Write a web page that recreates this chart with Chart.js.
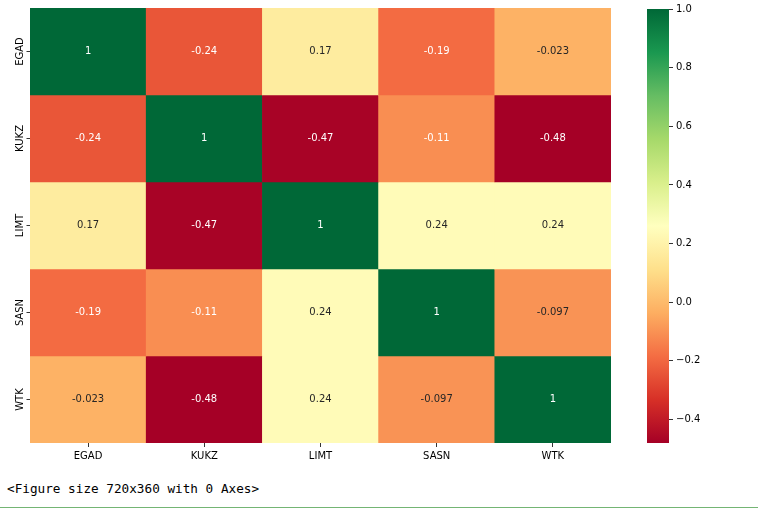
<!DOCTYPE html>
<html>
<head>
<meta charset="utf-8">
<script src="https://cdn.jsdelivr.net/npm/chart.js@4.4.1/dist/chart.umd.min.js"></script>
<style>
    body { margin: 0; background: #fff; width: 758px; height: 513px; position: relative; overflow: hidden; }
    #heat { position: absolute; left: 0; top: 0; }
    #bar { position: absolute; left: 640px; top: 0; }
    #note { position: absolute; left: 7px; top: 481px; font: 12.7px "DejaVu Sans Mono", monospace; color: #000; white-space: pre; }
    #rule { position: absolute; left: 0; top: 507px; width: 758px; height: 1px; background: #74b574; }
</style>
</head>
<body>
<canvas id="heat" width="640" height="470"></canvas>
<canvas id="bar" width="118" height="470"></canvas>
<div id="note">&lt;Figure size 720x360 with 0 Axes&gt;</div>
<div id="rule"></div>

<script>
// correlation matrix, one array per row
const names = ['EGAD', 'KUKZ', 'LIMT', 'SASN', 'WTK'];
const egad = [1, -0.24, 0.17, -0.19, -0.023];
const kukz = [-0.24, 1, -0.47, -0.11, -0.48];
const limt = [0.17, -0.47, 1, 0.24, 0.24];
const sasn = [-0.19, -0.11, 0.24, 1, -0.097];
const wtk = [-0.023, -0.48, 0.24, -0.097, 1];
const rows = [egad, kukz, limt, sasn, wtk];

const vmin = -0.48;
const vmax = 1;
const colorTicks = [-0.4, -0.2, 0.0, 0.2, 0.4, 0.6, 0.8, 1.0];

const rdylgn = ['#a50026','#d73027','#f46d43','#fdae61','#fee08b','#ffffbf','#d9ef8b','#a6d96a','#66bd63','#1a9850','#006837'];

Chart.defaults.font.family = "'DejaVu Sans', sans-serif";
Chart.defaults.font.size = 10;
Chart.defaults.color = '#000';

function hexRgb(h){
    return [parseInt(h.slice(1,3),16), parseInt(h.slice(3,5),16), parseInt(h.slice(5,7),16)];
}

function cmap(v){
    let t = (v - vmin) / (vmax - vmin);
    t = Math.max(0, Math.min(1, t));
    const pos = t * (rdylgn.length - 1);
    const i = Math.min(Math.floor(pos), rdylgn.length - 2);
    const f = pos - i;
    const a = hexRgb(rdylgn[i]), b = hexRgb(rdylgn[i+1]);
    return a.map((c, k) => Math.round(c + (b[k] - c) * f));
}

function luminance(rgb){
    const lin = rgb.map(c => {
        c = c / 255;
        return c <= 0.03928 ? c / 12.92 : Math.pow((c + 0.055) / 1.055, 2.4);
    });
    return 0.2126 * lin[0] + 0.7152 * lin[1] + 0.0722 * lin[2];
}

function fmt(v){
    return String(v);
}

const datasets = rows.map((row, i) => ({
    label: names[i],
    data: row.map(() => 1),
    values: row,
    backgroundColor: row.map(v => 'rgb(' + cmap(v).join(',') + ')'),
    borderWidth: 0,
    barPercentage: 1,
    categoryPercentage: 1
}));

const cellText = {
    id: 'cellText',
    afterDatasetsDraw(chart){
        const ctx = chart.ctx;
        ctx.save();
        ctx.font = "10px 'DejaVu Sans'";
        ctx.textAlign = 'center';
        ctx.textBaseline = 'middle';
        chart.data.datasets.forEach((ds, i) => {
            const meta = chart.getDatasetMeta(i);
            meta.data.forEach((el, j) => {
                const v = ds.values[j];
                ctx.fillStyle = luminance(cmap(v)) > 0.408 ? '#262626' : '#ffffff';
                ctx.fillText(fmt(v), el.x, (el.y + el.base) / 2);
            });
        });
        ctx.restore();
    }
};

const rowLabels = {
    id: 'rowLabels',
    afterDraw(chart){
        const ctx = chart.ctx;
        const y = chart.scales.y;
        const left = chart.chartArea.left;
        ctx.save();
        ctx.strokeStyle = '#000';
        ctx.lineWidth = 0.8;
        ctx.fillStyle = '#000';
        ctx.font = "10px 'DejaVu Sans'";
        names.forEach((n, i) => {
            const py = y.getPixelForValue(i + 0.5);
            ctx.beginPath();
            ctx.moveTo(left - 3.5, py);
            ctx.lineTo(left, py);
            ctx.stroke();
            ctx.save();
            ctx.translate(left - 7, py);
            ctx.rotate(-Math.PI / 2);
            ctx.textAlign = 'center';
            ctx.textBaseline = 'bottom';
            ctx.fillText(n, 0, 2);
            ctx.restore();
        });
        ctx.restore();
    }
};

new Chart(document.getElementById('heat'), {
    type: 'bar',
    data: { labels: names, datasets: datasets },
    options: {
        responsive: false,
        animation: false,
        devicePixelRatio: 1,
        layout: { padding: { left: 30, right: 29, top: 8, bottom: 0 } },
        plugins: { legend: { display: false }, tooltip: { enabled: false } },
        scales: {
            x: {
                stacked: true,
                afterFit(s){ s.height = 27; },
                border: { display: false },
                grid: { offset: false, drawOnChartArea: false, tickLength: 4, tickColor: '#000', tickWidth: 0.8 },
                ticks: { padding: 3, color: '#000', maxRotation: 0 }
            },
            y: {
                stacked: true,
                display: false,
                min: 0,
                max: 5,
                reverse: true
            }
        }
    },
    plugins: [cellText, rowLabels]
});

new Chart(document.getElementById('bar'), {
    type: 'bar',
    data: {
        labels: [''],
        datasets: [{
            data: [[vmin, vmax]],
            borderWidth: 0,
            barPercentage: 1,
            categoryPercentage: 1,
            backgroundColor(c){
                const chart = c.chart;
                if(!chart.chartArea) return rdylgn[5];
                const y = chart.scales.y;
                const g = chart.ctx.createLinearGradient(0, y.getPixelForValue(vmin), 0, y.getPixelForValue(vmax));
                rdylgn.forEach((col, i) => g.addColorStop(i / (rdylgn.length - 1), col));
                return g;
            }
        }]
    },
    options: {
        responsive: false,
        animation: false,
        devicePixelRatio: 1,
        layout: { padding: { left: 7, right: 0, top: 8, bottom: 27 } },
        plugins: { legend: { display: false }, tooltip: { enabled: false } },
        scales: {
            x: { display: false },
            y: {
                position: 'right',
                min: vmin,
                max: vmax,
                afterFit(s){ s.width = 89; },
                afterBuildTicks(s){ s.ticks = colorTicks.map(v => ({ value: v })); },
                border: { display: false },
                grid: { drawOnChartArea: false, tickLength: 4, tickColor: '#000', tickWidth: 0.8 },
                ticks: {
                    padding: 3,
                    color: '#000',
                    callback: v => v.toFixed(1).replace('-', '\u2212')
                }
            }
        }
    }
});
</script>
</body>
</html>
